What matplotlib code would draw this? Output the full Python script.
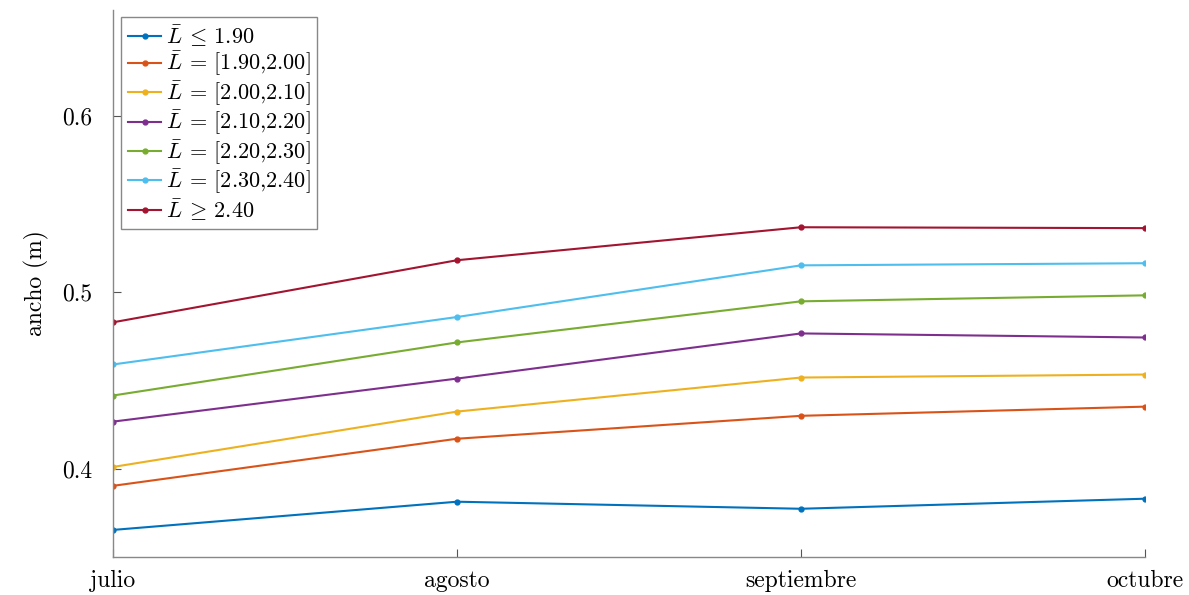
import matplotlib
matplotlib.use("Agg")
import matplotlib.pyplot as plt

plt.rcParams['font.family'] = ['cmr10', 'DejaVu Serif']
plt.rcParams['mathtext.fontset'] = 'cm'
plt.rcParams['axes.formatter.use_mathtext'] = True
plt.rcParams['axes.unicode_minus'] = False

# meses
meses = ['julio', 'agosto', 'septiembre', 'octubre']

# ancho medio por rango de longitud
s1 = [0.3653, 0.3813, 0.3773, 0.3830]
s2 = [0.3903, 0.4170, 0.4300, 0.4352]
s3 = [0.4010, 0.4324, 0.4517, 0.4534]
s4 = [0.4267, 0.4511, 0.4767, 0.4744]
s5 = [0.4415, 0.4716, 0.4949, 0.4983]
s6 = [0.4591, 0.4860, 0.5153, 0.5165]
s7 = [0.4830, 0.5182, 0.5369, 0.5364]

etiquetas = [r'$\bar{L}\:\leq\,1.90$',
             r'$\bar{L}\:=\,[1.90{,}2.00]$',
             r'$\bar{L}\:=\,[2.00{,}2.10]$',
             r'$\bar{L}\:=\,[2.10{,}2.20]$',
             r'$\bar{L}\:=\,[2.20{,}2.30]$',
             r'$\bar{L}\:=\,[2.30{,}2.40]$',
             r'$\bar{L}\:\geq\,2.40$']
colores = ['#0072BD', '#D95319', '#EDB120', '#7E2F8E', '#77AC30', '#4DBEEE', '#A2142F']

series = [s1, s2, s3, s4, s5, s6, s7]

fig = plt.figure(figsize=(11.89, 5.95), dpi=100)
ax = fig.add_axes([0.095, 0.064, 0.868, 0.919])

x = list(range(len(meses)))
for s, lab, c in zip(series, etiquetas, colores):
    ax.plot(x, s, color=c, lw=1.5, marker='.', markersize=7, label=lab)

ax.set_xlim(0, 3)
ax.set_ylim(0.35, 0.66)
ax.set_xticks(x)
ax.set_xticklabels(meses)
ax.set_yticks([0.4, 0.5, 0.6])
ax.set_yticklabels(['0.4', '0.5', '0.6'])
ax.set_ylabel('ancho (m)', fontsize=17, labelpad=9)
ax.tick_params(direction='in', labelsize=17, color='#555555', length=6, width=0.8)
ax.tick_params(axis='x', pad=9)
ax.tick_params(axis='y', pad=15)

for k in ['top', 'right']:
    ax.spines[k].set_visible(False)
for k in ['left', 'bottom']:
    ax.spines[k].set_color('#888888')
    ax.spines[k].set_linewidth(1.0)

leg = ax.legend(loc='upper left', bbox_to_anchor=(0.008, 0.988), fontsize=16,
                fancybox=False, framealpha=1, edgecolor='#888888',
                handlelength=1.5, handletextpad=0.2, labelspacing=0.05,
                borderpad=0.3, borderaxespad=0)
leg.get_frame().set_linewidth(1.0)

fig.savefig('out.png', dpi=100)
